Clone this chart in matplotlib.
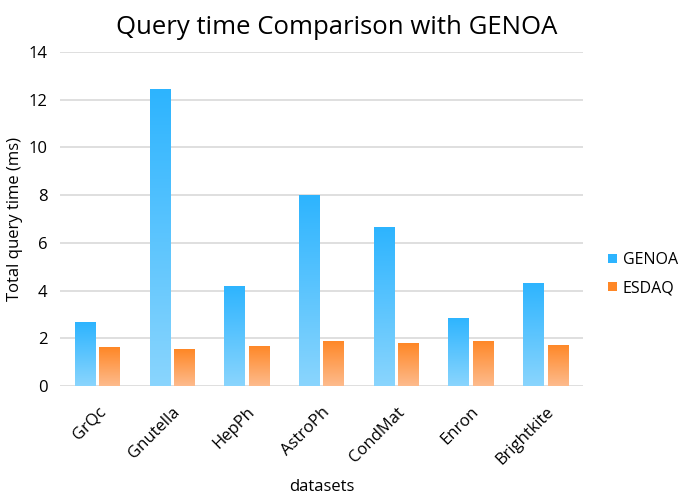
import matplotlib.pyplot as plt
import numpy as np
from matplotlib.colors import LinearSegmentedColormap

plt.rcParams['font.family'] = ['Open Sans', 'DejaVu Sans']

datasets = ['GrQc', 'Gnutella', 'HepPh', 'AstroPh', 'CondMat', 'Enron', 'Brightkite']
genoa = [2.68, 12.43, 4.2, 8.02, 6.65, 2.86, 4.33]
esdaq = [1.62, 1.55, 1.68, 1.89, 1.79, 1.89, 1.73]

fig = plt.figure(figsize=(6.85, 4.98), dpi=100)
ax = fig.add_axes([0.0876, 0.2249, 0.7634, 0.6707])

x = np.arange(len(datasets))
w = 0.275
off = 0.164


def gradient_bars(xs, vals, top, bottom, label):
    cmap = LinearSegmentedColormap.from_list(label, [bottom, top])
    bars = ax.bar(xs, vals, w, color=top, label=label, zorder=2)
    grad = np.linspace(0, 1, 256).reshape(-1, 1)
    for b in bars:
        bx, by = b.get_x(), b.get_y()
        im = ax.imshow(grad, cmap=cmap, origin='lower', aspect='auto',
                       extent=[bx, bx + b.get_width(), by, by + b.get_height()], zorder=3)
        im.set_clip_path(b)
    return bars


gradient_bars(x - off, genoa, '#2db4ff', '#8ad5fd', 'GENOA')
gradient_bars(x + off, esdaq, '#ff8726', '#fdbb8d', 'ESDAQ')

ax.set_xlim(-0.5, len(datasets) - 0.5)
ax.set_ylim(0, 14)
ax.set_yticks(range(0, 15, 2))
ax.set_xticks(x)
ax.set_xticklabels(datasets, rotation=45, ha='right', rotation_mode='anchor', fontsize=12)
ax.tick_params(axis='y', labelsize=12, length=0, pad=9)
ax.tick_params(axis='x', length=0, pad=13)
ax.grid(axis='y', color='#d9d9d9', linewidth=1.2, zorder=0)
for s in ax.spines.values():
    s.set_visible(False)

ax.set_title('Query time Comparison with GENOA', fontsize=18.5, pad=13, x=0.53)
ax.set_ylabel('Total query time (ms)', fontsize=12, labelpad=4)
ax.set_xlabel('datasets', fontsize=12, labelpad=8)

leg = ax.legend(loc='center left', bbox_to_anchor=(1.02, 0.335), frameon=False,
                fontsize=11.5, handlelength=0.55, handleheight=0.55, handletextpad=0.4,
                labelspacing=0.75)

fig.savefig('out.png', dpi=100)
